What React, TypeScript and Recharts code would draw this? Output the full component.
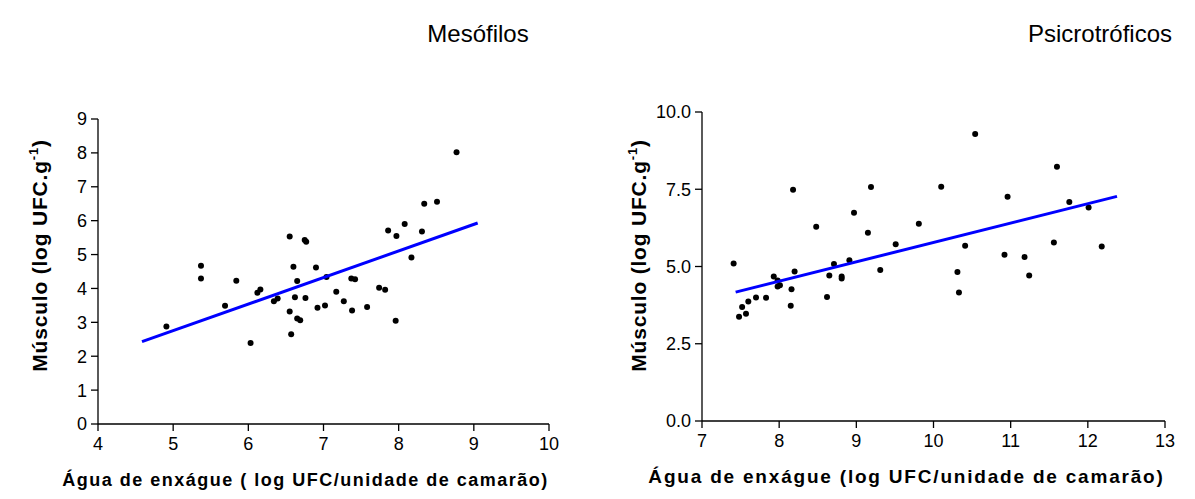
import { ScatterChart, Scatter, XAxis, YAxis, Label } from 'recharts';

// Mesófilos: água de enxágue (x) vs músculo (y)
const mesoX = [4.91, 5.37, 5.37, 5.69, 5.84, 6.03, 6.12, 6.16, 6.34, 6.39, 6.55, 6.55, 6.57, 6.6, 6.62, 6.65, 6.65, 6.69, 6.75, 6.77, 6.76, 6.9, 6.92, 7.02, 7.04, 7.17, 7.27, 7.37, 7.42, 7.38, 7.58, 7.74, 7.82, 7.86, 7.96, 7.97, 8.08, 8.17, 8.31, 8.34, 8.51, 8.77];
const mesoY = [2.88, 4.67, 4.29, 3.49, 4.23, 2.39, 3.87, 3.97, 3.62, 3.7, 5.53, 3.32, 2.65, 4.64, 3.74, 4.22, 3.11, 3.06, 5.43, 5.38, 3.72, 4.62, 3.43, 3.5, 4.34, 3.9, 3.62, 4.29, 4.27, 3.35, 3.45, 4.02, 3.96, 5.71, 3.05, 5.55, 5.9, 4.91, 5.68, 6.5, 6.56, 8.02];
const mesoFitX = [4.585, 9.051];
const mesoFitY = [2.43, 5.93];

// Psicrotróficos
const psicX = [7.41, 7.48, 7.52, 7.57, 7.6, 7.7, 7.83, 7.93, 7.98, 7.98, 8.01, 8.15, 8.16, 8.18, 8.2, 8.48, 8.62, 8.65, 8.71, 8.81, 8.81, 8.91, 8.97, 9.15, 9.19, 9.31, 9.51, 9.81, 10.1, 10.31, 10.33, 10.41, 10.54, 10.92, 10.96, 11.18, 11.24, 11.56, 11.6, 11.76, 12.01, 12.18];
const psicY = [5.1, 3.37, 3.69, 3.47, 3.87, 4.0, 3.99, 4.68, 4.55, 4.35, 4.39, 3.73, 4.26, 7.48, 4.84, 6.29, 4.01, 4.71, 5.08, 4.68, 4.61, 5.2, 6.74, 6.09, 7.57, 4.89, 5.72, 6.38, 7.58, 4.82, 4.16, 5.67, 9.29, 5.38, 7.26, 5.31, 4.71, 5.78, 8.23, 7.09, 6.91, 5.65];
const psicFitX = [7.436, 12.378];
const psicFitY = [4.17, 7.27];

const mesoXTicks = [4, 5, 6, 7, 8, 9, 10];
const mesoYTicks = [0, 1, 2, 3, 4, 5, 6, 7, 8, 9];
const psicXTicks = [7, 8, 9, 10, 11, 12, 13];
const psicYTicks = [0, 2.5, 5, 7.5, 10];

const toPts = (xs: number[], ys: number[]) => xs.map((x, i) => ({ x, y: ys[i] }));

const FONT = '"Liberation Sans", Arial, sans-serif';
const tick = { fill: '#000', fontSize: 18, fontFamily: FONT };

const Dot = (p: any) => <circle cx={p.cx} cy={p.cy} r={3} fill="#000" />;
const NoDot = () => null;

const YTitle = ({ viewBox, cx, dy }: any) => {
  const cy = viewBox.y + viewBox.height / 2 + dy;
  return (
    <text
      transform={`translate(${cx},${cy}) rotate(-90)`}
      textAnchor="middle"
      fontFamily={FONT}
      fontWeight="bold"
      fontSize={21}
      letterSpacing={0.8}
      fill="#000"
    >
      Músculo (log UFC.g<tspan dy={-9} fontSize={13}>-1</tspan>
      <tspan dy={9}>)</tspan>
    </text>
  );
};

const XTitle = ({ viewBox, text, dx, size, ls }: any) => (
  <text
    x={viewBox.x + viewBox.width / 2 + dx}
    y={viewBox.y + 62}
    textAnchor="middle"
    fontFamily={FONT}
    fontWeight="bold"
    fontSize={size}
    letterSpacing={ls}
    fill="#000"
  >
    {text}
  </text>
);

type PanelProps = {
  left: number;
  width: number;
  top: number;
  bottom: number;
  right: number;
  axisW: number;
  xDomain: [number, number];
  yDomain: [number, number];
  xTicks: number[];
  yTicks: number[];
  yFmt: (v: number) => string;
  pts: { x: number; y: number }[];
  fit: { x: number; y: number }[];
  xTitle: string;
  xTitleDx: number;
  xTitleSize: number;
  xTitleLs: number;
  yTitleX: number;
  yTitleDy: number;
};

const Panel = (p: PanelProps) => (
  <div style={{ position: 'absolute', left: p.left, top: 0 }}>
    <ScatterChart width={p.width} height={499} margin={{ top: p.top, right: p.right, left: 0, bottom: 0 }}>
      <XAxis
        type="number"
        dataKey="x"
        domain={p.xDomain}
        ticks={p.xTicks}
        interval={0}
        allowDataOverflow
        height={499 - p.bottom}
        stroke="#000"
        strokeWidth={1.3}
        tickSize={7}
        tickMargin={6}
        tick={tick}
        tickLine={{ stroke: '#000' }}
      >
        <Label
          content={(lp: any) => (
            <XTitle {...lp} text={p.xTitle} dx={p.xTitleDx} size={p.xTitleSize} ls={p.xTitleLs} />
          )}
        />
      </XAxis>
      <YAxis
        type="number"
        dataKey="y"
        domain={p.yDomain}
        ticks={p.yTicks}
        interval={0}
        allowDataOverflow
        width={p.axisW}
        stroke="#000"
        strokeWidth={1.3}
        tickSize={7}
        tickMargin={4}
        tick={tick}
        tickFormatter={p.yFmt}
        tickLine={{ stroke: '#000' }}
      >
        <Label content={(lp: any) => <YTitle {...lp} cx={p.yTitleX} dy={p.yTitleDy} />} />
      </YAxis>
      <Scatter data={p.pts} shape={Dot} isAnimationActive={false} />
      <Scatter
        data={p.fit}
        shape={NoDot}
        line={{ stroke: '#0000ff', strokeWidth: 3 }}
        lineType="joint"
        isAnimationActive={false}
      />
    </ScatterChart>
  </div>
);

export default function App() {
  return (
    <div
      style={{
        position: 'absolute',
        left: 0,
        top: 0,
        width: 1195,
        height: 499,
        background: '#fff',
        fontFamily: FONT,
        overflow: 'hidden',
      }}
    >
      <div style={{ position: 'absolute', left: 378, width: 200, top: 20, textAlign: 'center', fontSize: 24, color: '#000' }}>
        Mesófilos
      </div>
      <div style={{ position: 'absolute', left: 1000, width: 200, top: 20, textAlign: 'center', fontSize: 24, color: '#000' }}>
        Psicrotróficos
      </div>
      <Panel
        left={0}
        width={600}
        top={119}
        bottom={424}
        right={51}
        axisW={98}
        xDomain={[4, 10]}
        yDomain={[0, 9]}
        xTicks={mesoXTicks}
        yTicks={mesoYTicks}
        yFmt={(v) => String(v)}
        pts={toPts(mesoX, mesoY)}
        fit={toPts(mesoFitX, mesoFitY)}
        xTitle="Água de enxágue ( log UFC/unidade de camarão)"
        xTitleDx={-18}
        xTitleSize={18}
        xTitleLs={1.5}
        yTitleX={47}
        yTitleDy={-16}
      />
      <Panel
        left={600}
        width={595}
        top={112}
        bottom={421}
        right={30}
        axisW={102}
        xDomain={[7, 13]}
        yDomain={[0, 10]}
        xTicks={psicXTicks}
        yTicks={psicYTicks}
        yFmt={(v) => v.toFixed(1)}
        pts={toPts(psicX, psicY)}
        fit={toPts(psicFitX, psicFitY)}
        xTitle="Água de enxágue (log UFC/unidade de camarão)"
        xTitleDx={-27}
        xTitleSize={19}
        xTitleLs={1.8}
        yTitleX={46}
        yTitleDy={-11}
      />
    </div>
  );
}
